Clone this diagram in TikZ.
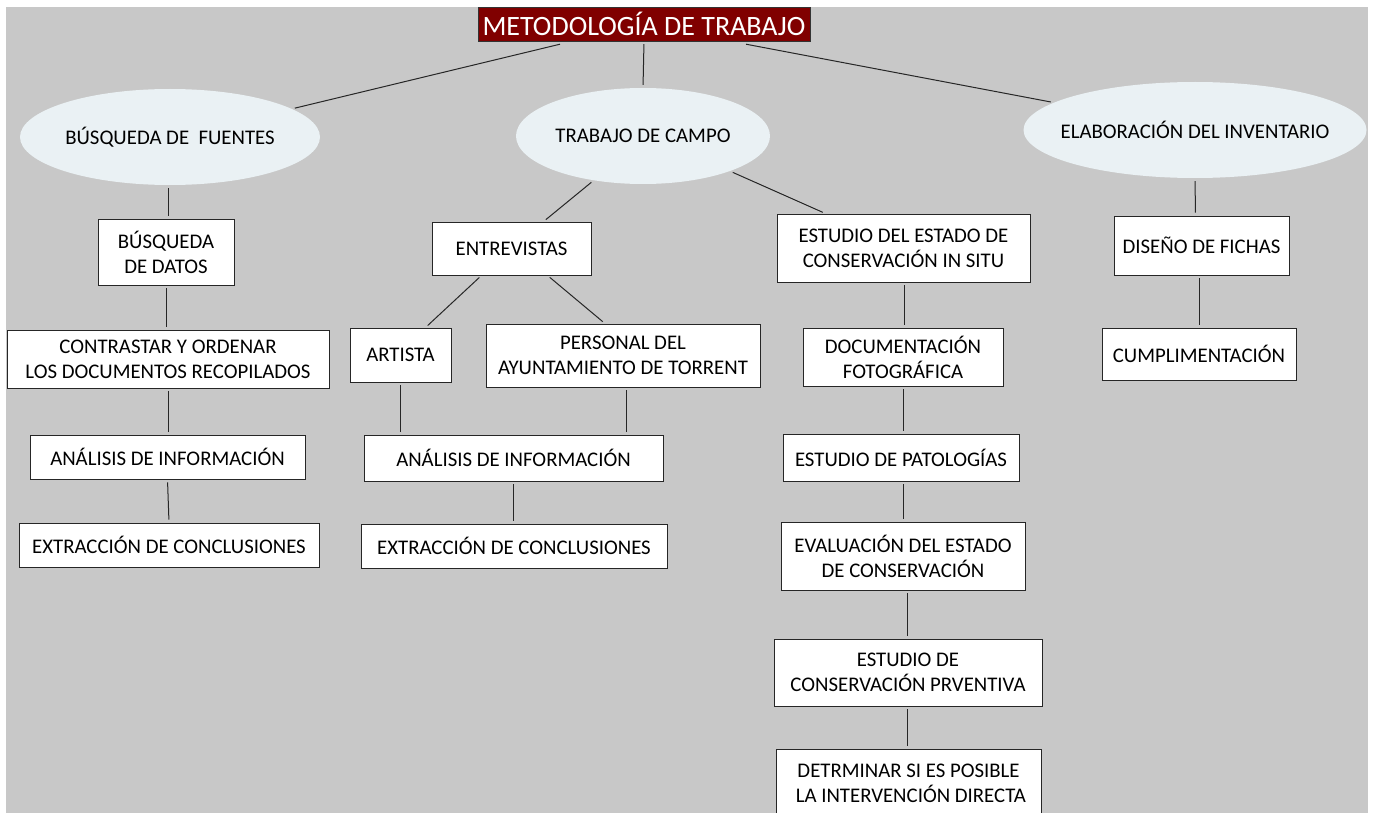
\documentclass[tikz,border=0pt]{standalone}
\usepackage{fontspec}
\setmainfont{Carlito}
\usetikzlibrary{shapes.geometric}
\definecolor{bggray}{HTML}{C8C8C8}
\definecolor{ellfill}{HTML}{EAF1F4}
\definecolor{titlered}{HTML}{800000}
\begin{document}
\begin{tikzpicture}[x=1pt,y=-1pt,
  bx/.style={draw=black!85, line width=0.9pt, fill=white, inner sep=0pt, align=center,
    font=\fontsize{20.8}{25}\selectfont},
  ell/.style={ellipse, fill=ellfill, inner xsep=-30pt, inner ysep=-10pt, font=\fontsize{20.8}{25}\selectfont},
  ln/.style={draw=black!85, line width=1pt, shorten <=3pt, shorten >=3pt}]
\useasboundingbox (0,0) rectangle (1375,813);
\fill[bggray] (6,7) rectangle (1368,813);
% title
\node[draw=black!80, fill=titlered, text=white, inner sep=0pt, minimum width=332pt, minimum height=34pt,
  font=\fontsize{28}{30}\selectfont] (title) at (644,24) {METODOLOGÍA DE TRABAJO};
% ellipses
\node[ell, minimum width=300pt, minimum height=96pt] (e1) at (170,137) {BÚSQUEDA DE\ \ FUENTES};
\node[ell, minimum width=254pt, minimum height=96pt] (e2) at (643,136) {TRABAJO DE CAMPO};
\node[ell, minimum width=343pt, minimum height=96pt] (e3) at (1195,130) {ELABORACIÓN DEL INVENTARIO};
% column 1
\node[bx, minimum width=136pt, minimum height=66pt] (bd) at (166,252) {BÚSQUEDA\\DE DATOS};
\node[bx, minimum width=322pt, minimum height=58pt] (co) at (168,359) {CONTRASTAR Y ORDENAR\\LOS DOCUMENTOS RECOPILADOS};
\node[bx, minimum width=275pt, minimum height=44pt] (an1) at (167.5,457) {ANÁLISIS DE INFORMACIÓN};
\node[bx, minimum width=300pt, minimum height=44pt] (ex1) at (169,545) {EXTRACCIÓN DE CONCLUSIONES};
% column 2
\node[bx, minimum width=159pt, minimum height=53pt] (ent) at (511.5,248.5) {ENTREVISTAS};
\node[bx, minimum width=101pt, minimum height=54pt] (art) at (400.5,355) {ARTISTA};
\node[bx, minimum width=274pt, minimum height=63pt] (per) at (623,355.5) {PERSONAL DEL\\AYUNTAMIENTO DE TORRENT};
\node[bx, minimum width=299pt, minimum height=46pt] (an2) at (513.5,458) {ANÁLISIS DE INFORMACIÓN};
\node[bx, minimum width=306pt, minimum height=44pt] (ex2) at (514,546) {EXTRACCIÓN DE CONCLUSIONES};
% column 3
\node[bx, minimum width=253pt, minimum height=68pt] (est) at (903.5,248) {ESTUDIO DEL ESTADO DE\\CONSERVACIÓN IN SITU};
\node[bx, minimum width=200pt, minimum height=58pt] (doc) at (903,357) {DOCUMENTACIÓN\\FOTOGRÁFICA};
\node[bx, minimum width=236pt, minimum height=47pt] (pat) at (901,457.5) {ESTUDIO DE PATOLOGÍAS};
\node[bx, minimum width=244pt, minimum height=68pt] (eva) at (903,556) {EVALUACIÓN DEL ESTADO\\DE CONSERVACIÓN};
\node[bx, minimum width=268pt, minimum height=67pt] (pre) at (908,672.5) {ESTUDIO DE\\CONSERVACIÓN PRVENTIVA};
\node[bx, minimum width=265pt, minimum height=68pt] (det) at (908.5,783) {DETRMINAR SI ES POSIBLE\\\ LA INTERVENCIÓN DIRECTA};
% column 4
\node[bx, minimum width=175pt, minimum height=59pt] (dis) at (1201.5,245.5) {DISEÑO DE FICHAS};
\node[bx, minimum width=194pt, minimum height=52pt] (cum) at (1199,354) {CUMPLIMENTACIÓN};
% connectors from title
\draw[ln, shorten <=0pt] ([shift={(-84pt,-3pt)}]title.south) -- (e1.13);
\draw[ln] (title.south) -- (e2.north);
\draw[ln, shorten <=0pt] ([shift={(102pt,-3pt)}]title.south) -- (e3.169);
% column 1
\draw[ln] ([xshift=-2pt]e1.south) -- ([xshift=-2pt]e1.south |- bd.north);
\draw[ln] (bd.south) -- (bd.south |- co.north);
\draw[ln] (co.south) -- (co.south |- an1.north);
\draw[ln] (an1.south) -- (ex1.north);
% column 2
\draw[ln] (e2.222) -- ([xshift=32pt]ent.north);
\draw[ln] ([xshift=-30pt]ent.south) -- ([xshift=25pt]art.north);
\draw[ln] ([xshift=36pt]ent.south) -- ([xshift=-18pt]per.north);
\draw[ln] (art.south) -- (art.south |- an2.north);
\draw[ln] ([xshift=3pt]per.south) -- ([xshift=3pt]per.south |- an2.north);
\draw[ln] (an2.south) -- (an2.south |- ex2.north);
% column 3
\draw[ln] (e2.338) -- ([xshift=-78pt]est.north);
\draw[ln] ([xshift=1pt]est.south) -- ([xshift=1pt]est.south |- doc.north);
\draw[ln] (doc.south) -- (doc.south |- pat.north);
\draw[ln] ([xshift=2pt]pat.south) -- ([xshift=2pt]pat.south |- eva.north);
\draw[ln] ([xshift=4pt]eva.south) -- ([xshift=4pt]eva.south |- pre.north);
\draw[ln] ([xshift=-1pt]pre.south) -- ([xshift=-1pt]pre.south |- det.north);
% column 4
\draw[ln] (e3.south) -- ([xshift=-6pt]dis.north);
\draw[ln] ([xshift=-2pt]dis.south) -- ([xshift=-2pt]dis.south |- cum.north);
\end{tikzpicture}
\end{document}
